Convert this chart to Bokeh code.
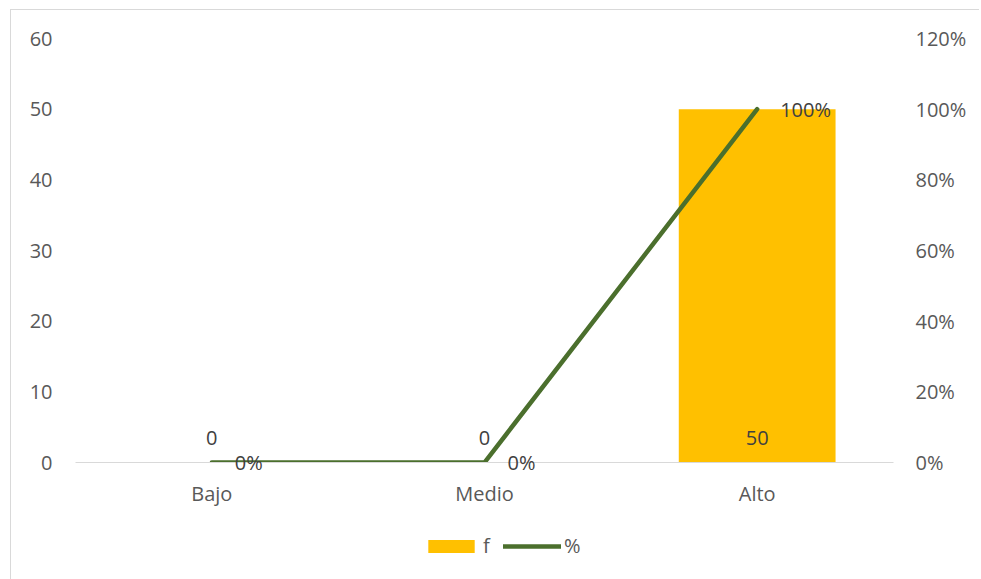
from bokeh.plotting import figure
from bokeh.layouts import column
from bokeh.models import (FactorRange, Range1d, LinearAxis, NumeralTickFormatter,
                          ColumnDataSource, Legend, LegendItem, FixedTicker)
from bokeh.core.properties import value
from bokeh.embed import file_html
from bokeh.resources import INLINE

categories = ["Bajo", "Medio", "Alto"]
f_values = [0, 0, 50]
pct_values = [0.0, 0.0, 1.0]
f_labels = ["0", "0", "50"]
pct_labels = ["0%", "0%", "100%"]
left_ticks = [0, 10, 20, 30, 40, 50, 60]
right_ticks = [0, 0.2, 0.4, 0.6, 0.8, 1.0, 1.2]
series_names = ["f", "%"]

FONT = "Open Sans"
GRAY = "#595959"
FS = "20px"
BAR_COLOR = "#FFC000"
LINE_COLOR = "#4b6f2d"

src = ColumnDataSource(dict(cat=categories, f=f_values, pct=pct_values,
                            fl=f_labels, pl=pct_labels, zero=[0, 0, 0]))

xr = FactorRange(*categories, range_padding=0)
yr = Range1d(0, 60)

p = figure(width=968, height=500, x_range=xr, y_range=yr,
           output_backend="svg", toolbar_location=None,
           min_border_left=64, min_border_right=86, min_border_top=28, min_border_bottom=48)
p.extra_y_ranges = {"pct": Range1d(0, 1.2)}
p.outline_line_color = None
p.xgrid.grid_line_color = None
p.ygrid.grid_line_color = None

bars = p.vbar(x="cat", top="f", width=0.575, source=src, color=BAR_COLOR, line_color=None)
line = p.line(x="cat", y="pct", source=src, y_range_name="pct",
              line_color=LINE_COLOR, line_width=4.5, line_cap="round", line_join="round")

t1 = p.text(x="cat", y="zero", text="fl", source=src, text_align="center", text_baseline="middle",
            y_offset=-25, text_font=value(FONT), text_font_size=FS, text_color="#404040")
t2 = p.text(x="cat", y="pct", text="pl", source=src, y_range_name="pct", text_align="left",
            text_baseline="middle", x_offset=23, y_offset=0, text_font=value(FONT),
            text_font_size=FS, text_color="#404040")
t1.level = "overlay"
t2.level = "overlay"

xa = p.xaxis[0]
xa.axis_line_color = "#d9d9d9"
xa.major_tick_line_color = None
xa.minor_tick_line_color = None
xa.major_label_text_font = FONT
xa.major_label_text_font_size = FS
xa.major_label_text_color = GRAY
xa.major_label_standoff = 11

ya = p.yaxis[0]
ya.ticker = FixedTicker(ticks=left_ticks)
ya.axis_line_color = None
ya.major_tick_line_color = None
ya.minor_tick_line_color = None
ya.major_label_text_font = FONT
ya.major_label_text_font_size = FS
ya.major_label_text_color = GRAY
ya.major_label_standoff = 17

ra = LinearAxis(y_range_name="pct", ticker=FixedTicker(ticks=right_ticks),
                formatter=NumeralTickFormatter(format="0%"))
ra.axis_line_color = None
ra.major_tick_line_color = None
ra.minor_tick_line_color = None
ra.major_label_text_font = FONT
ra.major_label_text_font_size = FS
ra.major_label_text_color = GRAY
ra.major_label_standoff = 16
p.add_layout(ra, "right")

# legend strip (its renderers are hidden; they only supply the legend swatches)
lg = figure(width=968, height=69, x_range=xr, y_range=yr,
            x_axis_type=None, y_axis_type=None,
            output_backend="svg", toolbar_location=None,
            min_border_left=0, min_border_right=0, min_border_top=0, min_border_bottom=0)
lg.grid.visible = False
lg.outline_line_color = None
lb = lg.vbar(x="cat", top="f", width=0.575, source=src, color=BAR_COLOR, line_color=None,
             visible=False)
ll = lg.line(x="cat", y="f", source=src, line_color=LINE_COLOR, line_width=4.5,
             line_cap="round", visible=False)
legend = Legend(items=[LegendItem(label=series_names[0], renderers=[lb]),
                       LegendItem(label=series_names[1], renderers=[ll])],
                orientation="horizontal", location=(347, 20),
                label_text_font=FONT, label_text_font_size=FS, label_text_color=GRAY,
                glyph_width=58, glyph_height=16, spacing=0, label_standoff=3,
                border_line_color=None, background_fill_alpha=0, padding=2, margin=0)
lg.add_layout(legend, "center")

layout = column(p, lg, spacing=0)
layout.styles = {"border-left": "1px solid #d9d9d9", "border-top": "1px solid #d9d9d9",
                 "margin-left": "10px", "margin-top": "9px"}

open("out.html", "w").write(file_html(layout, INLINE))
